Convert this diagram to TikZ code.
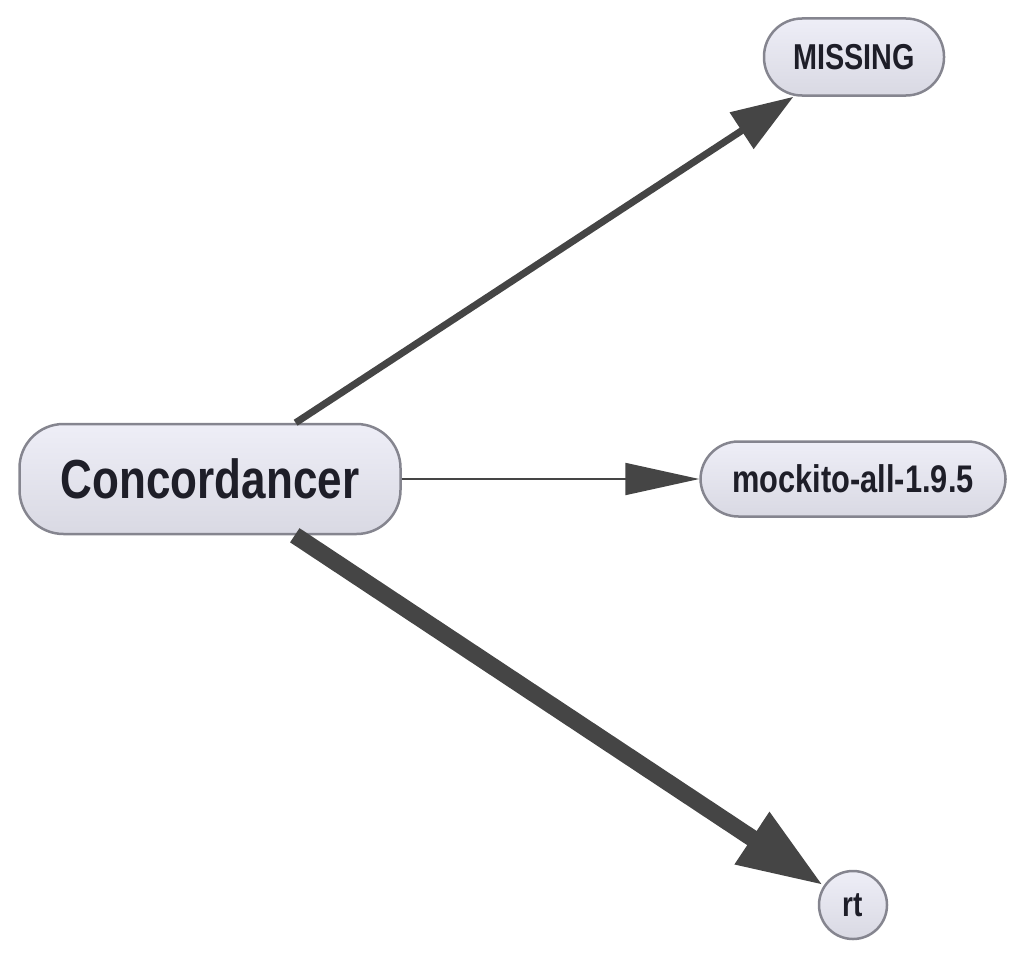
\documentclass[tikz,border=0pt]{standalone}
\usepackage{fontspec}
\setmainfont{Liberation Sans}
\newfontfamily\boxfont[FakeStretch=0.8]{Liberation Sans}
\usetikzlibrary{arrows.meta, positioning}
\definecolor{boxtop}{HTML}{EEEEF7}
\definecolor{boxbottom}{HTML}{D9D9E3}
\definecolor{boxline}{HTML}{85858F}
\definecolor{boxtext}{HTML}{1E1E28}
\definecolor{edgegray}{HTML}{454545}

\begin{document}
\begin{tikzpicture}[
			x=1pt, y=-1pt,
			every node/.style={
					draw=boxline,
					line width=2.5pt,
					top color=boxtop,
					bottom color=boxbottom,
					rounded corners=38pt,
					text=boxtext,
					inner sep=0pt
				},
			dep/.style={draw=edgegray, line cap=butt}
		]
		\useasboundingbox (0,0) rectangle (1024,958);

		\node[minimum width=381pt, minimum height=110pt, rounded corners=44pt,
			font=\boxfont\bfseries\fontsize{55}{60}\selectfont] (conc) at (210, 479) {Concordancer};
		\node[minimum width=180pt, minimum height=77pt,
			font=\boxfont\bfseries\fontsize{36}{40}\selectfont] (missing) at (854, 57) {MISSING};
		\node[minimum width=305pt, minimum height=75pt,
			font=\boxfont\bfseries\fontsize{38.5}{42}\selectfont] (mockito) at (853, 479) {mockito-all-1.9.5};
		\node[circle, minimum size=68pt,
			font=\boxfont\bfseries\fontsize{35}{38}\selectfont] (rt) at (853, 905) {rt};

		\draw[dep, line width=7pt, -{Triangle[length=62pt, width=42pt]}] (conc) -- (missing);
		\draw[dep, line width=2pt, -{Triangle[length=74pt, width=32pt]}] (conc) -- (mockito);
		\draw[dep, line width=17pt, -{Triangle[length=86pt, width=58pt]}] (conc) -- (rt);
	\end{tikzpicture}
\end{document}
